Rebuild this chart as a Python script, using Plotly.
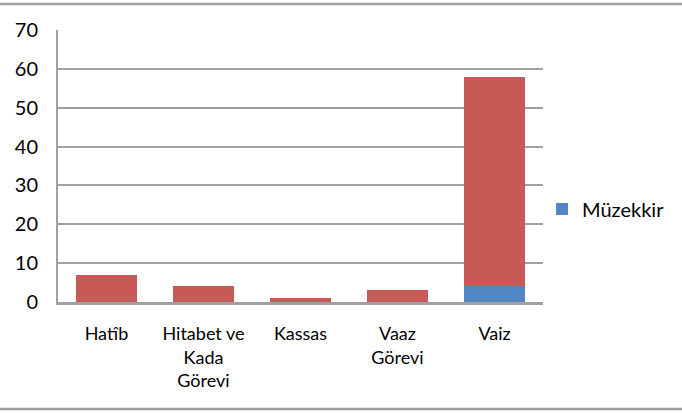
import plotly.graph_objects as go

# Data
categories = ["Hatîb", "Hitabet ve<br>Kada<br>Görevi", "Kassas", "Vaaz<br>Görevi", "Vaiz"]
muzekkir = [0, 0, 0, 0, 4]
other = [7, 4, 1, 3, 54]
y_ticks = [0, 10, 20, 30, 40, 50, 60, 70]

FONT = "Lato"
GRID = "#A0A0A0"

fig = go.Figure()

fig.add_trace(go.Bar(
    x=categories, y=muzekkir, name="Müzekkir",
    marker=dict(color="#5287C4", line=dict(width=0)),
))
fig.add_trace(go.Bar(
    x=categories, y=other, name="", showlegend=False,
    marker=dict(color="#C55A57", line=dict(width=0)),
))

fig.update_layout(
    barmode="stack",
    bargap=0.37,
    width=682, height=413,
    margin=dict(l=58, r=139, t=30, b=111),
    paper_bgcolor="white", plot_bgcolor="white",
    font=dict(family=FONT, size=17, color="#000000"),
    legend=dict(x=1.262, y=0.342, yanchor="middle", xanchor="right",
                font=dict(size=20), itemwidth=30, bgcolor="rgba(0,0,0,0)"),
    showlegend=True,
)

fig.update_yaxes(
    range=[0, 70], tickvals=y_ticks, showgrid=True, gridcolor=GRID, gridwidth=2,
    showline=True, linecolor=GRID, linewidth=2, zeroline=False,
    ticks="", ticklabelstandoff=14, tickfont=dict(size=20),
)
fig.update_xaxes(
    showline=True, linecolor=GRID, linewidth=2.5, showgrid=False,
    ticks="", ticklabelstandoff=14, tickfont=dict(size=18), tickangle=0,
)

# thin rules at the top and bottom of the picture
for yy in (1.0956, -0.393):
    fig.add_shape(type="line", xref="paper", yref="paper",
                  x0=-0.13, x1=1.32, y0=yy, y1=yy,
                  line=dict(color="#A0A0A0", width=2.5))

# drop the default page margin so the figure sits at the window's corner
fig.write_html("out.html", config={"displayModeBar": False},
               post_script="document.body.style.margin='0';")
